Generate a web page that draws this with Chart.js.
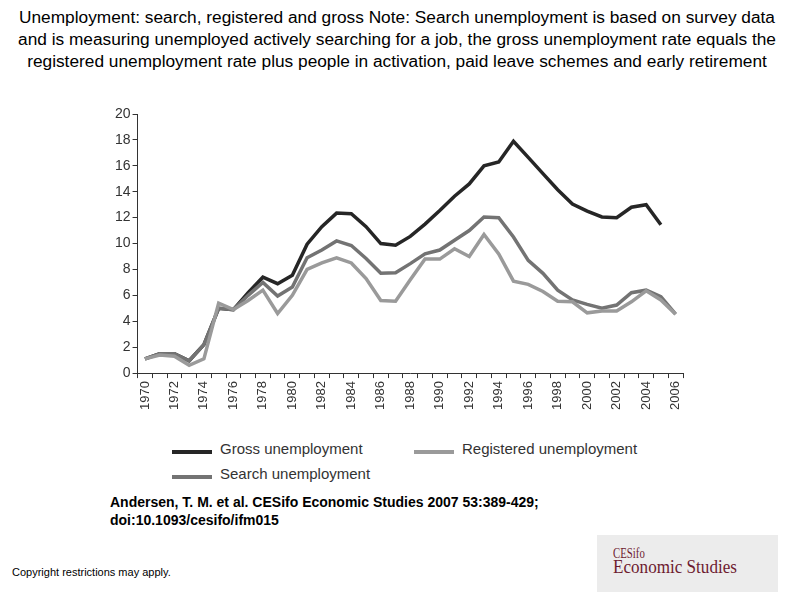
<!DOCTYPE html>
<html>
<head>
<meta charset="utf-8">
<script src="https://cdn.jsdelivr.net/npm/chart.js@4/dist/chart.umd.min.js"></script>
<style>
  body { margin: 0; width: 794px; height: 595px; background: #fff; position: relative; overflow: hidden;
         font-family: "Liberation Sans", Arial, sans-serif; }
  #title { position: absolute; left: 0; top: 6px; width: 794px; text-align: center; font-size: 17.3px; line-height: 22px; color: #000; white-space: nowrap; }
  #wrap { position: absolute; left: 100px; top: 100px; width: 600px; height: 320px; }
  #legend { position: absolute; left: 0; top: 0; font-size: 15px; color: #333; }
  .item { position: absolute; white-space: nowrap; }
  .item span.sw { position: absolute; left: 0; width: 40px; height: 4px; }
  .item span.tx { position: absolute; left: 48px; top: -10px; }
  #cite { position: absolute; left: 110px; top: 493px; font-size: 14px; font-weight: bold; line-height: 18px; color: #000; white-space: nowrap; }
  #copy { position: absolute; left: 12px; top: 566px; font-size: 11px; color: #000; }
  #logo { position: absolute; left: 597px; top: 535px; width: 181px; height: 57px; background: #ececec;
          font-family: "Liberation Serif", "DejaVu Serif", serif; color: #6e1b30; white-space: nowrap; }
  #logo .a { position: absolute; left: 16px; top: 11px; font-size: 15px; line-height: 15px; transform: scaleX(0.72); transform-origin: 0 0; }
  #logo .b { position: absolute; left: 16px; top: 22px; font-size: 19px; line-height: 19px; transform: scaleX(0.9); transform-origin: 0 0; }
</style>
</head>
<body>
<div id="title">Unemployment: search, registered and gross Note: Search unemployment is based on survey data<br>and is measuring unemployed actively searching for a job, the gross unemployment rate equals the<br>registered unemployment rate plus people in activation, paid leave schemes and early retirement</div>
<div id="wrap"><canvas id="chart"></canvas></div>
<div id="legend"></div>
<div id="cite">Andersen, T. M. et al. CESifo Economic Studies 2007 53:389-429;<br>doi:10.1093/cesifo/ifm015</div>
<div id="copy">Copyright restrictions may apply.</div>
<div id="logo"><div class="a">CESifo</div><div class="b">Economic Studies</div></div>
<script>
// years 1970..2006
const years = [];
for (let y = 1970; y <= 2006; y++) years.push(String(y));

const yTicks = [0, 2, 4, 6, 8, 10, 12, 14, 16, 18, 20];

const grossUnemployment = [1.1, 1.5, 1.5, 0.95, 2.2, 5.0, 4.9, 6.2, 7.4, 6.9, 7.55,
  9.95, 11.3, 12.35, 12.3, 11.3, 10.0, 9.87, 10.55, 11.5, 12.55,
  13.65, 14.6, 16.0, 16.3, 17.9, 16.65, 15.4, 14.15, 13.05, 12.5,
  12.05, 12.0, 12.8, 13.0, 11.45, null];

const registeredUnemployment = [1.1, 1.4, 1.3, 0.6, 1.1, 5.4, 4.9, 5.6, 6.4, 4.6, 6.0,
  8.0, 8.5, 8.9, 8.5, 7.3, 5.6, 5.55, 7.2, 8.8, 8.8,
  9.6, 9.0, 10.7, 9.2, 7.1, 6.85, 6.3, 5.55, 5.5, 4.65,
  4.8, 4.8, 5.5, 6.35, 5.65, 4.55];

const searchUnemployment = [1.1, 1.5, 1.5, 0.95, 2.2, 5.0, 4.9, 6.0, 7.0, 5.95, 6.65,
  8.9, 9.5, 10.2, 9.85, 8.85, 7.7, 7.75, 8.45, 9.2, 9.5,
  10.25, 11.0, 12.05, 12.0, 10.5, 8.7, 7.7, 6.4, 5.65, 5.3,
  5.0, 5.25, 6.2, 6.4, 5.9, 4.55];

const series = [
  { label: "Gross unemployment", data: grossUnemployment, color: "#262626" },
  { label: "Registered unemployment", data: registeredUnemployment, color: "#9a9a9a" },
  { label: "Search unemployment", data: searchUnemployment, color: "#737373" }
];

// legend laid out like the original (two columns, two rows)
const legendPos = [[172, 450], [414, 450], [172, 475]];
const legend = document.getElementById("legend");
series.forEach(function (s, i) {
  const el = document.createElement("div");
  el.className = "item";
  el.style.left = legendPos[i][0] + "px";
  el.style.top = legendPos[i][1] + "px";
  el.innerHTML = '<span class="sw" style="background:' + s.color + '"></span><span class="tx">' + s.label + '</span>';
  legend.appendChild(el);
});

const tickFont = { family: "'Liberation Sans', Arial, sans-serif", size: 13 };

new Chart(document.getElementById("chart"), {
  type: "line",
  data: {
    labels: years,
    // draw registered first so the darker lines sit on top
    datasets: [series[1], series[2], series[0]].map(function (s) {
      return {
        label: s.label,
        data: s.data,
        borderColor: s.color,
        backgroundColor: s.color,
        borderWidth: 3.5,
        pointRadius: 0,
        tension: 0,
        spanGaps: false
      };
    })
  },
  options: {
    responsive: true,
    maintainAspectRatio: false,
    animation: false,
    layout: { padding: { top: 14, right: 17, left: 13, bottom: 7 } },
    plugins: { legend: { display: false }, tooltip: { enabled: false } },
    scales: {
      x: {
        type: "category",
        offset: true,
        grid: { offset: true, drawOnChartArea: false, drawTicks: true, tickLength: 5, color: "#333" },
        border: { display: true, color: "#333", width: 1 },
        ticks: {
          autoSkip: false,
          minRotation: 90,
          maxRotation: 90,
          color: "#333",
          font: tickFont,
          padding: 3,
          callback: function (value, index) {
            const y = years[index];
            return Number(y) % 2 === 0 ? y : "";
          }
        }
      },
      y: {
        min: 0,
        max: 20,
        afterBuildTicks: function (axis) {
          axis.ticks = yTicks.map(function (v) { return { value: v }; });
        },
        grid: { drawOnChartArea: false, drawTicks: true, tickLength: 5, color: "#333" },
        border: { display: true, color: "#333", width: 1 },
        ticks: { color: "#333", font: { family: tickFont.family, size: 14 }, padding: 2 }
      }
    }
  }
});
</script>
</body>
</html>
